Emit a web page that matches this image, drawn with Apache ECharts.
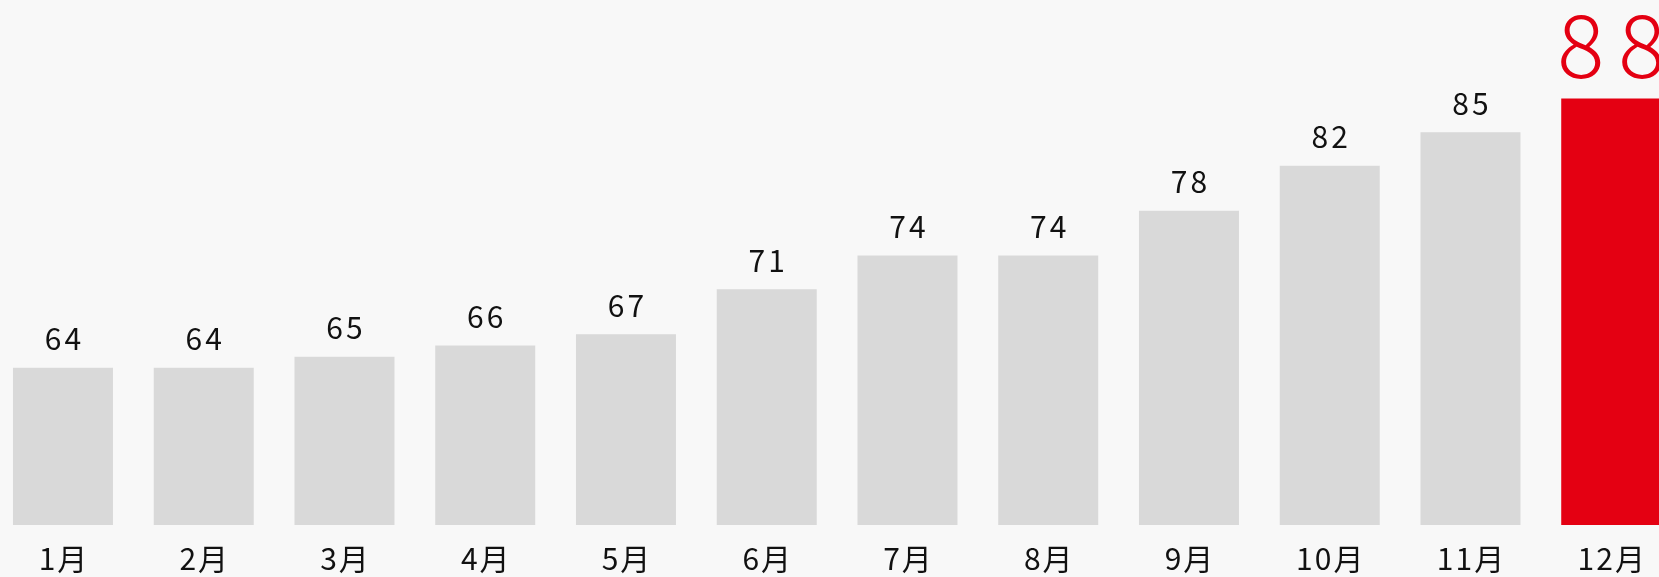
<!DOCTYPE html>
<html><head><meta charset="utf-8">
<style>html,body{margin:0;padding:0;background:#f8f8f8;}#c{width:1659px;height:577px;}</style>
<script src="https://cdn.jsdelivr.net/npm/echarts@6/dist/echarts.min.js"></script>
</head><body><div id="c"></div>
<script>
const categories = ['1月','2月','3月','4月','5月','6月','7月','8月','9月','10月','11月','12月'];
const values = [64,64,65,66,67,71,74,74,78,82,85,88];
const highlightIndex = 11;

const font = '"Noto Sans CJK JP","Noto Sans",sans-serif';
// letter-spaced text: each character as its own rich token with side padding
function spaced(s, cls){ return String(s).split('').map(ch => '{' + cls + '|' + ch + '}').join(''); }

const chart = echarts.init(document.getElementById('c'), null, {renderer:'canvas'});
chart.setOption({
  backgroundColor:'#f8f8f8',
  animation:false,
  grid:{left:-7.4, top:76, width:1689, bottom:52, outerBoundsMode:'none', containLabel:false},
  xAxis:{type:'category', data:categories,
    axisLine:{show:false}, axisTick:{show:false},
    axisLabel:{color:'#111', fontSize:30, fontFamily:font, margin:19, interval:0,
      formatter: v => spaced(v, 'c'),
      rich:{c:{color:'#111', fontSize:30, fontFamily:font, padding:[0,1,0,1]}}}},
  yAxis:{type:'value', min:50, max:90, show:false, splitLine:{show:false}},
  series:[{type:'bar', barWidth:100,
    data: values.map((v,i)=> i===highlightIndex ? {
      value:v, itemStyle:{color:'#e40012'},
      label:{distance:10, formatter: p => spaced(p.value, 'r'),
        rich:{r:{color:'#e40012', fontSize:88, fontWeight:300, fontFamily:font, padding:[0,7,0,7]}}}
    } : {value:v}),
    itemStyle:{color:'#d9d9d9'},
    label:{show:true, position:'top', color:'#111', fontSize:30, fontFamily:font, distance:14,
      formatter: p => spaced(p.value, 'n'),
      rich:{n:{color:'#111', fontSize:30, fontFamily:font, padding:[0,1.5,0,1.5]}}}
  }]
});
</script></body></html>
